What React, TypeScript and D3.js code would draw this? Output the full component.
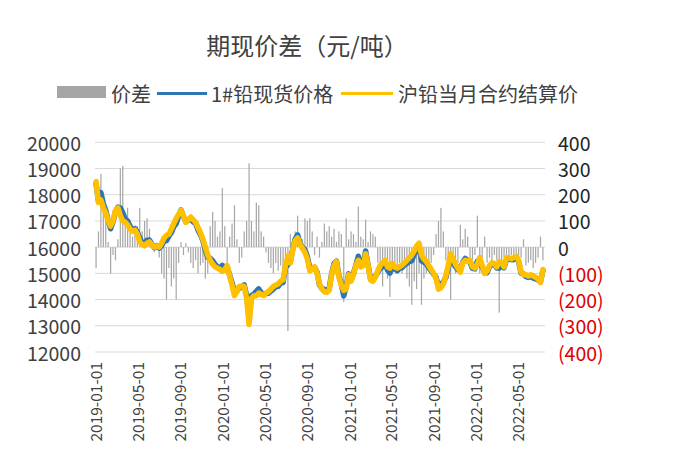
import React from 'react';
import * as d3 from 'd3';

const W = 680;
const H = 471;

const titleText = '期现价差（元/吨）';
const legendLabels = ['价差', '1#铅现货价格', '沪铅当月合约结算价'];
const leftTicks = [12000, 13000, 14000, 15000, 16000, 17000, 18000, 19000, 20000];
const rightTicks = [-400, -300, -200, -100, 0, 100, 200, 300, 400];
const dateTicks = ['2019-01-01', '2019-05-01', '2019-09-01', '2020-01-01', '2020-05-01', '2020-09-01', '2021-01-01', '2021-05-01', '2021-09-01', '2022-01-01', '2022-05-01'];

// weekly samples starting 2019-01-04
const firstWeek = '2019-01-04';

const futuresPrice = [
  18500,17700,17800,17500,17300,17000,16800,17000,17400,17500,
  17200,17000,16950,16850,16700,16600,16650,16500,16200,16100,
  16050,16150,16200,16100,16000,16050,16000,16150,16350,16450,
  16500,16700,16900,17100,17250,17400,17200,16950,17050,17150,
  17050,16950,16750,16550,16300,16000,15700,15500,15350,15250,
  15200,15150,15080,15150,15300,14900,14550,14150,14300,14500,
  14520,14500,14050,13050,14050,14150,14150,14250,14200,14150,
  14250,14300,14400,14500,14550,14600,14700,14750,15300,15650,
  15400,15900,16250,16350,16100,15950,15800,15550,15100,15150,
  15250,15000,14600,14400,14300,14280,14350,14950,15300,15450,
  14850,14550,14350,14400,14950,14700,14950,15300,15500,15250,
  15300,15750,15300,14750,14700,14850,15100,15300,15400,15500,
  15250,15200,15380,15250,15200,15250,15320,15400,15500,15600,
  15700,15850,16050,16150,15700,15550,15450,15300,15150,15000,
  14800,14400,14450,14600,14900,15300,15750,15550,15350,15200,
  15050,15400,15500,15450,15500,15250,15200,15350,15600,15300,
  15000,15080,15300,15400,15380,15250,15450,15400,15250,15600,
  15600,15550,15600,15650,15500,15050,14950,14950,14900,14950,
  14900,14850,14780,14650,15150,
];

const spotPrice = [
  18420,17760,18080,17650,17400,17020,16700,16970,17350,17530,
  17500,17310,17070,17000,16800,16640,16710,16580,16350,16160,
  16150,16260,16270,16120,15980,16060,15960,16050,16230,16250,
  16420,16550,16780,16900,17190,17420,17170,16965,17030,17090,
  16970,16900,16650,16480,16240,15880,15600,15580,15485,15350,
  15240,15210,15305,15230,15240,14940,14640,14310,14330,14440,
  14480,14560,14150,13370,14150,14210,14320,14410,14260,14190,
  14230,14240,14320,14400,14490,14510,14630,14650,15220,15330,
  15450,15930,16310,16470,16140,15980,15910,15650,15210,15210,
  15220,15040,14560,14420,14390,14340,14430,14990,15370,15470,
  14910,14600,14140,14510,14980,14760,15000,15320,15655,15290,
  15330,15855,15320,14810,14750,14890,15040,15200,15250,15420,
  15130,15010,15280,15170,15100,15190,15220,15320,15380,15450,
  15480,15720,15890,16050,15480,15430,15350,15220,15090,14970,
  14850,14500,14600,14660,14850,15180,15550,15470,15250,15140,
  15135,15430,15570,15490,15420,15190,15170,15470,15500,15240,
  15040,15020,15260,15340,15350,15200,15200,15340,15210,15530,
  15550,15520,15540,15610,15450,15010,14980,14880,14840,14900,
  14820,14790,14740,14690,15100,
];

const spread = [
  -80,60,280,150,100,20,-100,-30,-50,30,
  300,310,120,150,100,40,60,80,150,60,
  100,110,70,20,-20,10,-40,-100,-120,-200,
  -80,-150,-120,-200,-60,20,-30,15,-20,-60,
  -80,-50,-100,-70,-60,-120,-100,80,135,100,
  40,60,225,80,-60,40,90,160,30,-60,
  -40,60,100,320,100,60,170,160,60,40,
  -20,-60,-80,-100,-60,-90,-70,-100,-80,-320,
  50,30,60,120,40,30,110,100,110,60,
  -30,40,-40,20,90,60,80,40,70,20,
  60,50,-210,110,30,60,50,20,155,40,
  30,105,20,60,50,40,-60,-100,-150,-80,
  -120,-190,-100,-80,-100,-60,-100,-80,-120,-150,
  -220,-130,-160,-100,-220,-120,-100,-80,-60,-30,
  50,100,150,60,-50,-120,-200,-80,-100,-60,
  85,30,70,40,-80,-60,-30,120,-100,-60,
  40,-60,-40,-60,-30,-50,-250,-60,-40,-70,
  -50,-30,-60,-40,-50,-40,30,-70,-60,-50,
  -80,-60,-40,40,-50,
];

const FONT = '"Noto Sans CJK SC", "Noto Sans", sans-serif';
const GRID = '#D9D9D9';
const BAR = '#A6A6A6';
const BLUE = '#2E75B6';
const YELLOW = '#FFC000';
const TEXT = '#404040';
const RED = '#E00000';

export default function App() {
  const parse = d3.timeParse('%Y-%m-%d');
  const x = d3.scaleTime()
    .domain([parse('2019-01-01') as Date, parse('2022-07-21') as Date])
    .range([95, 545]);
  const yL = d3.scaleLinear().domain([12000, 20000]).range([352, 142.3]);
  const yR = d3.scaleLinear().domain([-400, 400]).range([352, 142.3]);

  const start = parse(firstWeek) as Date;
  const dates = futuresPrice.map((_, i) => d3.timeDay.offset(start, 7 * i));

  const lineGen = d3.line<number>()
    .x((_, i) => x(dates[i]))
    .y((d) => yL(d))
    .curve(d3.curveLinear);

  const fmtR = (v: number) => (v < 0 ? `(${-v})` : `${v}`);

  return (
    <svg width={W} height={H} style={{ position: 'absolute', left: 0, top: 0, background: '#fff' }} fontFamily={FONT}>
      <rect x={0} y={0} width={W} height={H} fill="#fff" />
      {/* title */}
      <text x={307} y={44} textAnchor="middle" dominantBaseline="central" fontSize={24} fill={TEXT}>{titleText}</text>

      {/* legend */}
      <g>
        <rect x={57} y={86} width={49} height={12} fill={BAR} />
        <text x={111} y={93.5} dominantBaseline="central" fontSize={20} fill={TEXT}>{legendLabels[0]}</text>
        <line x1={157} x2={207} y1={93.5} y2={93.5} stroke={BLUE} strokeWidth={3} />
        <text x={211} y={93.5} dominantBaseline="central" fontSize={20} fill={TEXT}>{legendLabels[1]}</text>
        <line x1={341} x2={393} y1={93.5} y2={93.5} stroke={YELLOW} strokeWidth={3} />
        <text x={398} y={93.5} dominantBaseline="central" fontSize={20} fill={TEXT}>{legendLabels[2]}</text>
      </g>

      {/* grid */}
      {leftTicks.map((t) => (
        <line key={t} x1={95} x2={545} y1={yL(t)} y2={yL(t)} stroke={GRID} strokeWidth={1} />
      ))}

      {/* left axis labels */}
      {leftTicks.map((t) => (
        <text key={'l' + t} x={81} y={yL(t)} textAnchor="end" dominantBaseline="central" fontSize={19.5} fill={TEXT}>{t}</text>
      ))}

      {/* right axis labels */}
      {rightTicks.map((t) => (
        <text key={'r' + t} x={558} y={yR(t)} dominantBaseline="central" fontSize={19.5} fill={t < 0 ? RED : '#262626'}>{fmtR(t)}</text>
      ))}

      {/* date labels */}
      {dateTicks.map((s) => {
        const px = x(parse(s) as Date);
        return (
          <text key={s} transform={`translate(${px},362) rotate(-90)`} textAnchor="end" dominantBaseline="central" fontSize={15.5} fill={TEXT}>{s}</text>
        );
      })}

      {/* spread bars */}
      <g>
        {spread.map((v, i) => {
          const y0 = yR(0);
          const y1 = yR(v);
          return (
            <rect key={i} x={x(dates[i]) - 0.6} width={1.2} y={Math.min(y0, y1)} height={Math.abs(y1 - y0)} fill={BAR} />
          );
        })}
      </g>

      {/* lines */}
      <path d={lineGen(spotPrice) || ''} fill="none" stroke={BLUE} strokeWidth={5.5} strokeLinejoin="round" strokeLinecap="round" />
      <path d={lineGen(futuresPrice) || ''} fill="none" stroke={YELLOW} strokeWidth={5.5} strokeLinejoin="round" strokeLinecap="round" />
    </svg>
  );
}
